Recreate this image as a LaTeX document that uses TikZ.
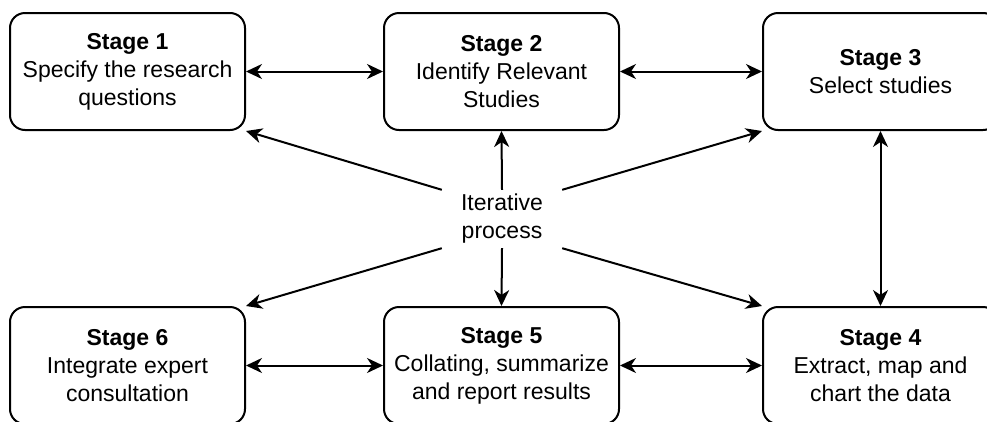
\documentclass[tikz,border=0pt]{standalone}
\usepackage{fontspec}
\setmainfont{Liberation Sans}
\usetikzlibrary{arrows.meta}
\begin{document}
\begin{tikzpicture}[x=1pt,y=-1pt,
  stagebox/.style={draw=black, line width=2pt, rounded corners=15pt, minimum width=235pt, minimum height=117pt, align=center, inner sep=0pt, font=\fontsize{23}{28}\selectfont},
  tipstyle/.style={},
  conn/.style={line width=2pt, -{Stealth[length=16pt,width=15pt,inset=5pt]}},
  biconn/.style={line width=2pt, {Stealth[length=16pt,width=15pt,inset=5pt]}-{Stealth[length=16pt,width=15pt,inset=5pt]}}]
\useasboundingbox (0,0) rectangle (987,421);
\clip (0,0) rectangle (987,421);
\fill[white] (0,0) rectangle (987,421);
\node[stagebox] (s1) at (127.5,71.5) {\textbf{Stage 1}\\Specify the research\\questions};
\node[stagebox] (s2) at (501.5,71.5) {\textbf{Stage 2}\\Identify Relevant\\Studies};
\node[stagebox] (s3) at (880.5,71.5) {\textbf{Stage 3}\\Select studies};
\node[stagebox] (s6) at (127.5,365.5) {\textbf{Stage 6}\\Integrate expert\\consultation};
\node[stagebox] (s5) at (501.5,365.5) {\textbf{Stage 5}\\Collating, summarize\\and report results};
\node[stagebox] (s4) at (880.5,365.5) {\textbf{Stage 4}\\Extract, map and\\chart the data};
\node[minimum width=120pt, minimum height=58pt, inner sep=0pt, align=center, font=\fontsize{23}{28}\selectfont] (it) at (502,219) {Iterative\\process};
\draw[biconn] (s1.east) -- (s2.west);
\draw[biconn] (s2.east) -- (s3.west);
\draw[biconn] (s6.east) -- (s5.west);
\draw[biconn] (s5.east) -- (s4.west);
\draw[biconn] (s3.south) -- (s4.north);
\draw[conn] (it.north) -- (s2.south);
\draw[conn] (it.south) -- (s5.north);
\draw[conn] (it.north west) -- (s1.south east);
\draw[conn] (it.north east) -- (s3.south west);
\draw[conn] (it.south west) -- (s6.north east);
\draw[conn] (it.south east) -- (s4.north west);
\end{tikzpicture}
\end{document}
